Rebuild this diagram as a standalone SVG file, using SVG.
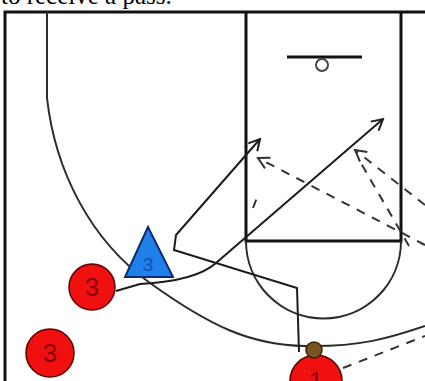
<svg xmlns="http://www.w3.org/2000/svg" width="425" height="381" viewBox="0 0 425 381">
  <style>
    .court{fill:none;stroke:#111;stroke-width:3}
    .arc{fill:none;stroke:#2b2b2b;stroke-width:2}
    .move{fill:none;stroke:#1c1c1c;stroke-width:2;marker-end:url(#tip)}
    .pass{fill:none;stroke:#333;stroke-width:2;stroke-dasharray:9 8}
    .red{fill:#f01010;stroke:#5a0000;stroke-width:1.5}
    .num{font-family:"Liberation Sans",Arial,sans-serif;font-size:26px;fill:#8a0000;text-anchor:middle}
  </style>
  <defs>
    <marker id="tip" markerUnits="userSpaceOnUse" viewBox="-14 -8 16 16" refX="0" refY="0" markerWidth="16" markerHeight="16" orient="auto">
      <path d="M-11,-6 L0,0 L-11,6" fill="none" stroke="#1c1c1c" stroke-width="2"/>
    </marker>
    <marker id="dtip" markerUnits="userSpaceOnUse" viewBox="-14 -8 16 16" refX="0" refY="0" markerWidth="16" markerHeight="16" orient="auto">
      <path d="M-11,-6 L0,0 L-11,6" fill="none" stroke="#333" stroke-width="2"/>
    </marker>
  </defs>

  <rect width="425" height="381" fill="#fff"/>

  <text x="1" y="4" font-family="'Liberation Serif','Times New Roman',serif" font-size="25" fill="#000">to receive a pass.</text>

  <!-- half court -->
  <g id="court">
    <path class="court" d="M5,381 V12 H425"/>
    <path class="court" d="M246,12 V241 H401 V12"/>
    <path class="arc" d="M246,241 A77.5,77.5 0 0 0 401,241"/>
    <path class="arc" d="M47,12 V98 C55,170 90,240 150,283 S250,345 305,346 S390,338 425,326"/>
    <line x1="287" y1="57" x2="362" y2="57" stroke="#111" stroke-width="3"/>
    <circle cx="322" cy="65" r="6" fill="none" stroke="#444" stroke-width="2"/>
  </g>

  <!-- cuts and passes -->
  <g id="connectors">
    <path class="move" d="M299,352 L297,288 L174,250 L176,235 L260,139"/>
    <path class="move" d="M116,291 L140,284 Q196,281 216,263 L383,119"/>
    <path class="pass" d="M425,205 L355,150" marker-end="url(#dtip)"/>
    <path class="pass" d="M409,246 L358,158"/>
    <path class="pass" d="M425,245 L258,158" marker-end="url(#dtip)"/>
    <path class="pass" d="M253,208 L258,195"/>
    <path class="pass" d="M343,368 L425,336"/>
  </g>

  <!-- players -->
  <g id="defender-x3">
    <polygon points="148,227 125,277 173,277" fill="#1e80e8" stroke="#0c2a70" stroke-width="2"/>
    <text x="148" y="271" font-family="'Liberation Sans',Arial,sans-serif" font-size="19" fill="#1450b0" text-anchor="middle">3</text>
  </g>
  <g id="player-3-wing">
    <circle class="red" cx="92" cy="287" r="23"/>
    <text class="num" x="92" y="296">3</text>
  </g>
  <g id="player-3-corner">
    <circle class="red" cx="50" cy="353" r="24"/>
    <text class="num" x="50" y="362">3</text>
  </g>
  <g id="player-1">
    <circle class="red" cx="316" cy="381" r="26"/>
    <text class="num" x="316" y="390">1</text>
    <circle cx="314" cy="350" r="8" fill="#7a5224" stroke="#3a2208" stroke-width="1.5"/>
  </g>
</svg>
